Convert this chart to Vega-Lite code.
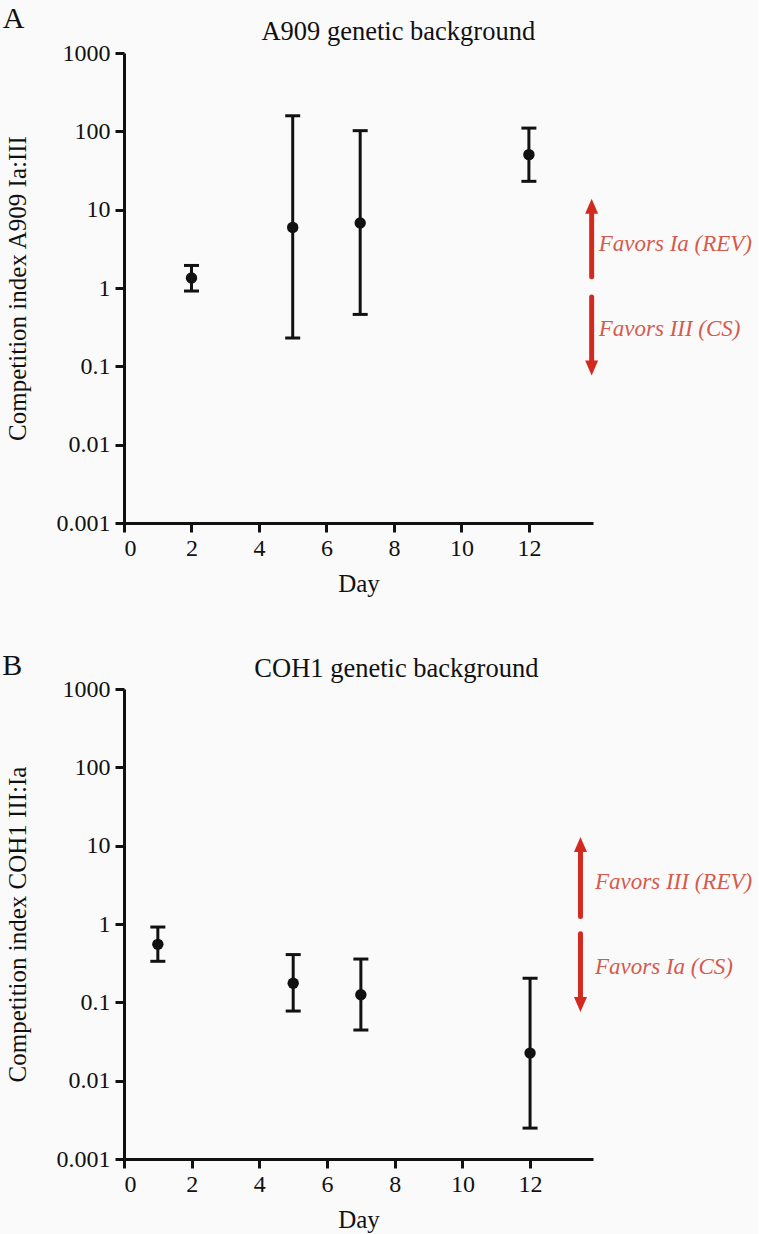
{
  "$schema": "https://vega.github.io/schema/vega-lite/v6.json",
  "background": "#fafafa",
  "padding": {"left": 2, "top": 3, "right": 5, "bottom": 5},
  "config": {
    "view": {"stroke": null},
    "font": "Liberation Serif",
    "axis": {
      "grid": false,
      "domainColor": "#111111",
      "domainWidth": 3,
      "tickColor": "#111111",
      "tickWidth": 3,
      "tickSize": 9,
      "labelFont": "Liberation Serif",
      "labelFontSize": 24,
      "labelColor": "#111111",
      "titleFont": "Liberation Serif",
      "titleFontSize": 25,
      "titleFontWeight": "normal",
      "titleColor": "#111111"
    }
  },
  "datasets": {
    "A_points": [
      {"day": 2, "ci": 1.34, "lo": 0.915, "hi": 1.94},
      {"day": 5, "ci": 5.94, "lo": 0.23, "hi": 158},
      {"day": 7, "ci": 6.77, "lo": 0.46, "hi": 102},
      {"day": 12, "ci": 50.4, "lo": 23, "hi": 110}
    ],
    "B_points": [
      {"day": 1, "ci": 0.55, "lo": 0.334, "hi": 0.915},
      {"day": 5, "ci": 0.175, "lo": 0.0774, "hi": 0.407},
      {"day": 7, "ci": 0.125, "lo": 0.0443, "hi": 0.357},
      {"day": 12, "ci": 0.0225, "lo": 0.00248, "hi": 0.203}
    ],
    "A_arrows": [
      {"x": 13.86, "start": 1.39, "end": 10, "tip": 13.8, "dir": "up"},
      {"x": 13.86, "start": 0.77, "end": 0.11, "tip": 0.0766, "dir": "down"}
    ],
    "B_arrows": [
      {"x": 13.49, "start": 1.25, "end": 9, "tip": 12.9, "dir": "up"},
      {"x": 13.49, "start": 0.753, "end": 0.11, "tip": 0.0752, "dir": "down"}
    ],
    "A_labels": [
      {"kind": "letter", "x": -3.59, "y": 2086, "text": "A"},
      {"kind": "heading", "x": 8.13, "y": 1465, "text": "A909 genetic background"},
      {"kind": "note", "x": 14.07, "y": 3.68, "text": "Favors Ia (REV)"},
      {"kind": "note", "x": 14.07, "y": 0.302, "text": "Favors III (CS)"}
    ],
    "B_labels": [
      {"kind": "letter", "x": -3.6, "y": 1510, "text": "B"},
      {"kind": "heading", "x": 8.05, "y": 1423, "text": "COH1 genetic background"},
      {"kind": "note", "x": 13.92, "y": 3.44, "text": "Favors III (REV)"},
      {"kind": "note", "x": 13.92, "y": 0.282, "text": "Favors Ia (CS)"}
    ]
  },
  "spacing": 166,
  "bounds": "flush",
  "vconcat": [
    {
      "width": 469,
      "height": 470,
      "layer": [
        {
          "data": {"name": "A_points"},
          "mark": {"type": "rule", "strokeWidth": 3, "color": "#111111"},
          "encoding": {
            "x": {"field": "day", "type": "quantitative", "title": "Day",
              "scale": {"domain": [0, 13.9], "nice": false, "zero": false},
              "axis": {"values": [0, 2, 4, 6, 8, 10, 12], "title": "Day", "labelPadding": 4, "titlePadding": 11}},
            "y": {"field": "lo", "type": "quantitative", "title": "Competition index A909 Ia:III",
              "scale": {"type": "log", "domain": [0.001, 1000], "nice": false},
              "axis": {"values": [0.001, 0.01, 0.1, 1, 10, 100, 1000], "format": "~g", "title": "Competition index A909 Ia:III", "labelPadding": 5, "titlePadding": 26}},
            "y2": {"field": "hi"}
          }
        },
        {
          "data": {"name": "A_points"},
          "mark": {"type": "tick", "orient": "horizontal", "size": 15, "thickness": 3, "color": "#111111", "opacity": 1},
          "encoding": {
            "x": {"field": "day", "type": "quantitative", "title": "Day"},
            "y": {"field": "lo", "type": "quantitative", "title": "Competition index A909 Ia:III"}
          }
        },
        {
          "data": {"name": "A_points"},
          "mark": {"type": "tick", "orient": "horizontal", "size": 15, "thickness": 3, "color": "#111111", "opacity": 1},
          "encoding": {
            "x": {"field": "day", "type": "quantitative", "title": "Day"},
            "y": {"field": "hi", "type": "quantitative", "title": "Competition index A909 Ia:III"}
          }
        },
        {
          "data": {"name": "A_points"},
          "mark": {"type": "point", "filled": true, "size": 130, "color": "#111111", "opacity": 1},
          "encoding": {
            "x": {"field": "day", "type": "quantitative", "title": "Day"},
            "y": {"field": "ci", "type": "quantitative", "title": "Competition index A909 Ia:III"}
          }
        },
        {
          "mark": {"type": "rule", "strokeDash": [2, 3], "strokeWidth": 1.5, "color": "#111111"},
          "encoding": {"y": {"datum": 1, "type": "quantitative"}}
        },
        {
          "data": {"name": "A_arrows"},
          "mark": {"type": "rule", "strokeWidth": 5, "color": "#d32a1f", "strokeCap": "round"},
          "encoding": {
            "x": {"field": "x", "type": "quantitative", "title": "Day"},
            "y": {"field": "start", "type": "quantitative", "title": "Competition index A909 Ia:III"},
            "y2": {"field": "end"}
          }
        },
        {
          "data": {"name": "A_arrows"},
          "mark": {"type": "point", "filled": true, "size": 100, "color": "#d32a1f", "opacity": 1, "strokeWidth": 0},
          "encoding": {
            "x": {"field": "x", "type": "quantitative", "title": "Day"},
            "y": {"field": "tip", "type": "quantitative", "title": "Competition index A909 Ia:III"},
            "shape": {"field": "dir", "type": "nominal", "legend": null,
              "scale": {"domain": ["up", "down"], "range": ["M0,0L1.3,3L-1.3,3Z", "M0,0L1.3,-3L-1.3,-3Z"]}}
          }
        },
        {
          "data": {"name": "A_labels"},
          "transform": [{"filter": "datum.kind === 'note'"}],
          "mark": {"type": "text", "align": "left", "baseline": "middle", "font": "Liberation Serif", "fontStyle": "italic", "fontSize": 23, "color": "#d65a4c"},
          "encoding": {
            "x": {"field": "x", "type": "quantitative", "title": "Day"},
            "y": {"field": "y", "type": "quantitative", "title": "Competition index A909 Ia:III"},
            "text": {"field": "text"}
          }
        },
        {
          "data": {"name": "A_labels"},
          "transform": [{"filter": "datum.kind === 'heading'"}],
          "mark": {"type": "text", "align": "center", "baseline": "alphabetic", "font": "Liberation Serif", "fontSize": 26.5, "color": "#111111"},
          "encoding": {
            "x": {"field": "x", "type": "quantitative", "title": "Day"},
            "y": {"field": "y", "type": "quantitative", "title": "Competition index A909 Ia:III"},
            "text": {"field": "text"}
          }
        },
        {
          "data": {"name": "A_labels"},
          "transform": [{"filter": "datum.kind === 'letter'"}],
          "mark": {"type": "text", "align": "left", "baseline": "alphabetic", "font": "Liberation Serif", "fontSize": 30, "color": "#111111"},
          "encoding": {
            "x": {"field": "x", "type": "quantitative", "title": "Day"},
            "y": {"field": "y", "type": "quantitative", "title": "Competition index A909 Ia:III"},
            "text": {"field": "text"}
          }
        }
      ]
    },
    {
      "width": 469,
      "height": 470,
      "layer": [
        {
          "data": {"name": "B_points"},
          "mark": {"type": "rule", "strokeWidth": 3, "color": "#111111"},
          "encoding": {
            "x": {"field": "day", "type": "quantitative", "title": "Day",
              "scale": {"domain": [0, 13.86], "nice": false, "zero": false},
              "axis": {"values": [0, 2, 4, 6, 8, 10, 12], "title": "Day", "labelPadding": 4, "titlePadding": 11}},
            "y": {"field": "lo", "type": "quantitative", "title": "Competition index COH1 III:Ia",
              "scale": {"type": "log", "domain": [0.001, 1000], "nice": false},
              "axis": {"values": [0.001, 0.01, 0.1, 1, 10, 100, 1000], "format": "~g", "title": "Competition index COH1 III:Ia", "labelPadding": 5, "titlePadding": 26}},
            "y2": {"field": "hi"}
          }
        },
        {
          "data": {"name": "B_points"},
          "mark": {"type": "tick", "orient": "horizontal", "size": 15, "thickness": 3, "color": "#111111", "opacity": 1},
          "encoding": {
            "x": {"field": "day", "type": "quantitative", "title": "Day"},
            "y": {"field": "lo", "type": "quantitative", "title": "Competition index COH1 III:Ia"}
          }
        },
        {
          "data": {"name": "B_points"},
          "mark": {"type": "tick", "orient": "horizontal", "size": 15, "thickness": 3, "color": "#111111", "opacity": 1},
          "encoding": {
            "x": {"field": "day", "type": "quantitative", "title": "Day"},
            "y": {"field": "hi", "type": "quantitative", "title": "Competition index COH1 III:Ia"}
          }
        },
        {
          "data": {"name": "B_points"},
          "mark": {"type": "point", "filled": true, "size": 130, "color": "#111111", "opacity": 1},
          "encoding": {
            "x": {"field": "day", "type": "quantitative", "title": "Day"},
            "y": {"field": "ci", "type": "quantitative", "title": "Competition index COH1 III:Ia"}
          }
        },
        {
          "mark": {"type": "rule", "strokeDash": [2, 3], "strokeWidth": 1.5, "color": "#111111"},
          "encoding": {"y": {"datum": 1, "type": "quantitative"}}
        },
        {
          "data": {"name": "B_arrows"},
          "mark": {"type": "rule", "strokeWidth": 5, "color": "#d32a1f", "strokeCap": "round"},
          "encoding": {
            "x": {"field": "x", "type": "quantitative", "title": "Day"},
            "y": {"field": "start", "type": "quantitative", "title": "Competition index COH1 III:Ia"},
            "y2": {"field": "end"}
          }
        },
        {
          "data": {"name": "B_arrows"},
          "mark": {"type": "point", "filled": true, "size": 100, "color": "#d32a1f", "opacity": 1, "strokeWidth": 0},
          "encoding": {
            "x": {"field": "x", "type": "quantitative", "title": "Day"},
            "y": {"field": "tip", "type": "quantitative", "title": "Competition index COH1 III:Ia"},
            "shape": {"field": "dir", "type": "nominal", "legend": null,
              "scale": {"domain": ["up", "down"], "range": ["M0,0L1.3,3L-1.3,3Z", "M0,0L1.3,-3L-1.3,-3Z"]}}
          }
        },
        {
          "data": {"name": "B_labels"},
          "transform": [{"filter": "datum.kind === 'note'"}],
          "mark": {"type": "text", "align": "left", "baseline": "middle", "font": "Liberation Serif", "fontStyle": "italic", "fontSize": 23, "color": "#d65a4c"},
          "encoding": {
            "x": {"field": "x", "type": "quantitative", "title": "Day"},
            "y": {"field": "y", "type": "quantitative", "title": "Competition index COH1 III:Ia"},
            "text": {"field": "text"}
          }
        },
        {
          "data": {"name": "B_labels"},
          "transform": [{"filter": "datum.kind === 'heading'"}],
          "mark": {"type": "text", "align": "center", "baseline": "alphabetic", "font": "Liberation Serif", "fontSize": 26.5, "color": "#111111"},
          "encoding": {
            "x": {"field": "x", "type": "quantitative", "title": "Day"},
            "y": {"field": "y", "type": "quantitative", "title": "Competition index COH1 III:Ia"},
            "text": {"field": "text"}
          }
        },
        {
          "data": {"name": "B_labels"},
          "transform": [{"filter": "datum.kind === 'letter'"}],
          "mark": {"type": "text", "align": "left", "baseline": "alphabetic", "font": "Liberation Serif", "fontSize": 30, "color": "#111111"},
          "encoding": {
            "x": {"field": "x", "type": "quantitative", "title": "Day"},
            "y": {"field": "y", "type": "quantitative", "title": "Competition index COH1 III:Ia"},
            "text": {"field": "text"}
          }
        }
      ]
    }
  ]
}
